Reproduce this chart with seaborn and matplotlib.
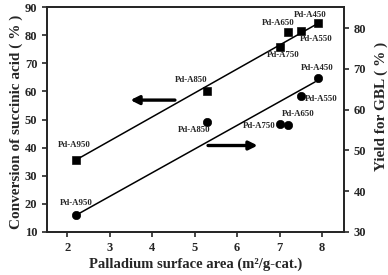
import matplotlib
matplotlib.use("Agg")
import matplotlib.pyplot as plt
import seaborn as sns
import numpy as np
import pandas as pd

# Data
catalysts = ["Pd-A950", "Pd-A850", "Pd-A750", "Pd-A650", "Pd-A550", "Pd-A450"]
pd_area = [2.2, 5.3, 7.0, 7.2, 7.5, 7.9]
conversion = [35.6, 60.2, 75.8, 81.0, 81.5, 84.2]
area_gbl = [2.2, 5.3, 7.0, 7.2, 7.5, 7.9]
gbl_yield = [34.1, 56.9, 56.4, 56.3, 63.3, 67.7]
# trend lines (as drawn in the original)
fit_x = [2.2, 7.84]
conv_fit = [35.6, 83.6]
gbl_fit = [34.1, 66.8]
xticks = [2, 3, 4, 5, 6, 7, 8]
left_ticks = [10, 20, 30, 40, 50, 60, 70, 80, 90]
right_ticks = [30, 40, 50, 60, 70, 80]

sns.set_style("ticks")
plt.rcParams['font.family'] = ['Liberation Serif', 'DejaVu Serif']
plt.rcParams['font.weight'] = 'bold'
plt.rcParams['axes.labelweight'] = 'bold'

df1 = pd.DataFrame({"x": pd_area, "y": conversion, "cat": catalysts})
df2 = pd.DataFrame({"x": area_gbl, "y": gbl_yield, "cat": catalysts})
fit1 = pd.DataFrame({"x": fit_x, "y": conv_fit})
fit2 = pd.DataFrame({"x": fit_x, "y": gbl_fit})

fig = plt.figure(figsize=(3.88, 2.75), dpi=100)
ax = fig.add_axes([47/388, 43/275, 297/388, 225/275])
ax2 = ax.twinx()

lw = 1.1
sns.lineplot(data=fit1, x="x", y="y", ax=ax, color="black", lw=lw)
sns.scatterplot(data=df1, x="x", y="y", ax=ax, marker="s", s=30, color="black",
                edgecolor="black", zorder=3)
sns.lineplot(data=fit2, x="x", y="y", ax=ax2, color="black", lw=lw)
sns.scatterplot(data=df2, x="x", y="y", ax=ax2, marker="o", s=36, color="black",
                edgecolor="black", zorder=3)

ax.set_xlim(1.52, 8.52)
ax.set_ylim(10, 90)
ax2.set_ylim(30, 85.15)
ax.set_xticks(xticks)
ax.set_yticks(left_ticks)
ax2.set_yticks(right_ticks)

tfs = 9
ax.tick_params(axis='both', labelsize=tfs, width=1.2, length=3.5, direction='out')
ax2.tick_params(axis='y', labelsize=tfs, width=1.2, length=3.5, direction='out')
for a in (ax, ax2):
    for lab in a.get_xticklabels() + a.get_yticklabels():
        lab.set_fontweight('bold')
    for sp in a.spines.values():
        sp.set_linewidth(1.3)
        sp.set_visible(True)

ax.set_xlabel("Palladium surface area (m\u00b2/g-cat.)", fontsize=10.5, fontweight='bold')
ax.set_ylabel("Conversion of succinic acid ( % )", fontsize=11, fontweight='bold')
ax2.set_ylabel("Yield for GBL ( % )", fontsize=11, fontweight='bold')
ax.xaxis.set_label_coords(0.5, -0.112)
ax.yaxis.set_label_coords(-0.081, 0.489)
ax2.yaxis.set_label_coords(1.104, 0.56)

# labels (pixel offsets)
off_sq = [(-2, 15), (-16, 11), (4, -8), (-10, 9), (16, -8), (-7, 8)]
off_ci = [(0, 12), (-13, -8), (-20, -2), (10, 11), (21, -3), (0, 10)]
for c, x, y, o in zip(catalysts, pd_area, conversion, off_sq):
    ax.annotate(c, (x, y), xytext=o, textcoords='offset pixels', ha='center', va='center',
                fontsize=6.3, fontweight='bold')
for c, x, y, o in zip(catalysts, area_gbl, gbl_yield, off_ci):
    ax2.annotate(c, (x, y), xytext=o, textcoords='offset pixels', ha='center', va='center',
                 fontsize=6.3, fontweight='bold')

# arrows
ax.annotate("", xy=(3.42, 56.9), xytext=(4.6, 56.9),
            arrowprops=dict(arrowstyle="-|>,head_length=0.5,head_width=0.25", color="black", lw=2.4))
ax2.annotate("", xy=(6.55, 51.2), xytext=(5.25, 51.2),
             arrowprops=dict(arrowstyle="-|>,head_length=0.5,head_width=0.25", color="black", lw=2.4))

fig.savefig("out.png", dpi=100)
